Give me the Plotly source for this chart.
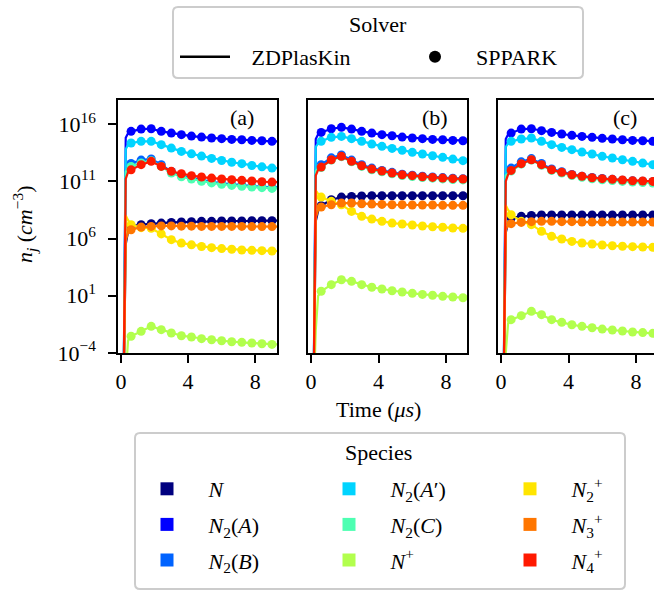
import plotly.graph_objects as go

# ---------------- data (log10 of number density, cm^-3) ----------------
T_DOTS = [0.6, 1.2, 1.8, 2.4, 3.0, 3.6, 4.2, 4.8, 5.4, 6.0, 6.6, 7.2, 7.8, 8.4, 9.0]
T_RISE = [0.15, 0.28, 0.42]
RISE_START = -8.0
T_END = 9.3

SPECIES = ["N", "N2A", "N2B", "N2Ap", "N2C", "Np", "N2p", "N3p", "N4p"]
LABELS = [
    "<i>N</i>",
    "<i>N</i><sub>2</sub>(<i>A</i>)",
    "<i>N</i><sub>2</sub>(<i>B</i>)",
    "<i>N</i><sub>2</sub>(<i>A</i>′)",
    "<i>N</i><sub>2</sub>(<i>C</i>)",
    "<i>N</i><sup>+</sup>",
    "<i>N</i><sub>2</sub><sup>+</sup>",
    "<i>N</i><sub>3</sub><sup>+</sup>",
    "<i>N</i><sub>4</sub><sup>+</sup>",
]
COLORS = ["#00007f", "#0000ff", "#0063ff", "#00d4ff", "#4dffb2",
          "#b2ff4d", "#ffe500", "#ff7600", "#ff1a00"]

# panel (a)
a_N    = [7.06, 7.21, 7.30, 7.35, 7.41, 7.44, 7.47, 7.50, 7.50, 7.53, 7.53, 7.53, 7.56, 7.56, 7.56]
a_N2A  = [15.36, 15.56, 15.59, 15.36, 15.21, 15.07, 14.95, 14.86, 14.78, 14.72, 14.66, 14.63, 14.57, 14.54, 14.49]
a_N2B  = [12.55, 12.85, 12.95, 12.45, 11.85, 11.50, 11.30, 11.10, 10.95, 10.83, 10.73, 10.65, 10.58, 10.52, 10.46]
a_N2Ap = [14.34, 14.49, 14.49, 14.20, 13.90, 13.61, 13.40, 13.20, 13.00, 12.82, 12.66, 12.54, 12.38, 12.26, 12.15]
a_N2C  = [12.30, 12.60, 12.80, 12.30, 11.72, 11.40, 11.20, 11.00, 10.86, 10.74, 10.64, 10.56, 10.50, 10.44, 10.38]
a_Np   = [-2.54, -2.11, -1.67, -1.96, -2.25, -2.49, -2.60, -2.75, -2.84, -2.93, -3.02, -3.07, -3.13, -3.19, -3.25]
a_N2p  = [7.20, 6.95, 6.90, 6.40, 5.90, 5.60, 5.45, 5.30, 5.20, 5.12, 5.06, 5.00, 4.97, 4.94, 4.91]
a_N3p  = [6.77, 7.00, 7.06, 7.10, 7.10, 7.08, 7.08, 7.06, 7.06, 7.06, 7.06, 7.06, 7.04, 7.04, 7.04]
a_N4p  = [12.00, 12.45, 12.74, 12.30, 11.87, 11.66, 11.49, 11.37, 11.28, 11.20, 11.14, 11.08, 11.02, 10.96, 10.93]
a_rise_mid = [5.5, 14.8, 12.0, 13.8, 11.8, -6.0, 8.0, 5.8, 11.2]
a_rise_end = [6.6, 15.2, 12.4, 14.2, 12.2, -2.9, 7.6, 6.5, 11.8]

# panel (b)
b_N    = [8.87, 9.39, 9.62, 9.68, 9.71, 9.74, 9.74, 9.74, 9.74, 9.74, 9.74, 9.74, 9.74, 9.74, 9.74]
b_N2A  = [15.27, 15.59, 15.71, 15.56, 15.36, 15.21, 15.07, 14.98, 14.86, 14.78, 14.72, 14.66, 14.63, 14.57, 14.54]
b_N2B  = [12.45, 13.05, 13.30, 12.85, 12.45, 12.15, 11.95, 11.78, 11.62, 11.53, 11.45, 11.38, 11.32, 11.27, 11.23]
b_N2Ap = [14.49, 14.84, 14.92, 14.72, 14.49, 14.25, 14.05, 13.87, 13.70, 13.53, 13.38, 13.23, 13.09, 12.94, 12.80]
b_N2C  = [12.20, 12.85, 13.15, 12.70, 12.30, 12.00, 11.83, 11.65, 11.50, 11.42, 11.33, 11.27, 11.21, 11.16, 11.12]
b_Np   = [1.39, 1.97, 2.40, 2.26, 1.97, 1.74, 1.59, 1.44, 1.33, 1.21, 1.12, 1.04, 0.95, 0.89, 0.83]
b_N2p  = [9.62, 9.25, 8.95, 8.37, 7.94, 7.70, 7.50, 7.35, 7.27, 7.18, 7.09, 7.03, 6.98, 6.92, 6.89]
b_N3p  = [8.75, 8.95, 9.10, 9.10, 9.04, 9.01, 8.98, 8.95, 8.95, 8.93, 8.93, 8.93, 8.90, 8.90, 8.90]
b_N4p  = [12.24, 12.88, 13.18, 12.74, 12.36, 12.07, 11.90, 11.72, 11.57, 11.49, 11.40, 11.34, 11.28, 11.23, 11.20]
b_rise_mid = [7.5, 14.7, 12.0, 14.0, 11.9, -2.0, 10.2, 7.8, 11.5]
b_rise_end = [8.4, 15.1, 12.3, 14.3, 12.1, 1.0, 9.9, 8.5, 12.0]

# panel (c)
c_N    = [7.79, 7.94, 8.02, 8.05, 8.05, 8.05, 8.05, 8.05, 8.05, 8.05, 8.05, 8.05, 8.05, 8.05, 8.05]
c_N2A  = [15.21, 15.56, 15.59, 15.42, 15.27, 15.13, 15.01, 14.92, 14.84, 14.75, 14.69, 14.63, 14.57, 14.54, 14.49]
c_N2B  = [12.15, 12.70, 12.98, 12.55, 12.08, 11.83, 11.60, 11.45, 11.33, 11.24, 11.17, 11.10, 11.04, 11.00, 10.96]
c_N2Ap = [14.49, 14.69, 14.78, 14.49, 14.20, 13.96, 13.76, 13.55, 13.38, 13.18, 13.03, 12.88, 12.74, 12.59, 12.45]
c_N2C  = [11.90, 12.50, 12.85, 12.40, 11.95, 11.72, 11.50, 11.35, 11.22, 11.13, 11.06, 10.99, 10.93, 10.89, 10.85]
c_Np   = [-1.09, -0.74, -0.36, -0.65, -1.09, -1.32, -1.53, -1.67, -1.79, -1.91, -1.99, -2.08, -2.17, -2.22, -2.28]
c_N2p  = [8.08, 7.50, 7.21, 6.63, 6.19, 5.96, 5.75, 5.61, 5.52, 5.43, 5.37, 5.32, 5.29, 5.26, 5.23]
c_N3p  = [7.30, 7.41, 7.47, 7.50, 7.50, 7.47, 7.47, 7.44, 7.44, 7.44, 7.44, 7.44, 7.44, 7.44, 7.44]
c_N4p  = [11.95, 12.54, 12.88, 12.45, 12.01, 11.78, 11.57, 11.43, 11.31, 11.23, 11.17, 11.11, 11.05, 11.02, 10.99]
c_rise_mid = [6.5, 14.7, 11.7, 14.0, 11.5, -4.0, 8.9, 6.8, 11.0]
c_rise_end = [7.4, 15.1, 12.0, 14.3, 11.7, -1.4, 8.5, 7.1, 11.6]

PANEL_LABELS = ["(a)", "(b)", "(c)"]
Y_TICKS = [-4, 1, 6, 11, 16]
X_TICKS = [0, 4, 8]

panels = [
    ([a_N, a_N2A, a_N2B, a_N2Ap, a_N2C, a_Np, a_N2p, a_N3p, a_N4p], a_rise_mid, a_rise_end),
    ([b_N, b_N2A, b_N2B, b_N2Ap, b_N2C, b_Np, b_N2p, b_N3p, b_N4p], b_rise_mid, b_rise_end),
    ([c_N, c_N2A, c_N2B, c_N2Ap, c_N2C, c_Np, c_N2p, c_N3p, c_N4p], c_rise_mid, c_rise_end),
]

# ---------------- figure ----------------
W, H = 654, 591
FONT = "Liberation Serif"
FS = 22
NB = "\u00a0"
fig = go.Figure()


def px(x):
    return x / W


def py(y):
    return 1 - y / H


def rounded_box(x0, y0, x1, y1, r=5):
    """SVG path (paper coords) of a box with rounded corners, pixel inputs."""
    X0, X1, Y0, Y1 = px(x0), px(x1), py(y0), py(y1)
    rx, ry = r / W, r / H
    return (f"M{X0+rx},{Y0} L{X1-rx},{Y0} Q{X1},{Y0} {X1},{Y0-ry} "
            f"L{X1},{Y1+ry} Q{X1},{Y1} {X1-rx},{Y1} L{X0+rx},{Y1} "
            f"Q{X0},{Y1} {X0},{Y1+ry} L{X0},{Y0-ry} Q{X0},{Y0} {X0+rx},{Y0} Z")


x_domains = [(px(118), px(277)), (px(308), px(467)), (px(498), 1.0)]
x_ranges = [[-0.18, 9.3], [-0.18, 9.24], [-0.18, 9.07]]
y_domain = [py(353), py(100)]

for p, (series, rmid, rend) in enumerate(panels):
    xa = "x" if p == 0 else f"x{p+1}"
    ya = "y" if p == 0 else f"y{p+1}"
    for i, vals in enumerate(series):
        lt = T_RISE + T_DOTS + [T_END]
        lv = [RISE_START, rmid[i], rend[i]] + vals + [vals[-1]]
        fig.add_trace(go.Scatter(
            x=lt, y=[10 ** v for v in lv], mode="lines",
            line=dict(color=COLORS[i], width=2.2),
            xaxis=xa, yaxis=ya, showlegend=False, hoverinfo="skip"))
        fig.add_trace(go.Scatter(
            x=T_DOTS, y=[10 ** v for v in vals], mode="markers",
            marker=dict(color=COLORS[i], size=9, line=dict(width=0)),
            xaxis=xa, yaxis=ya, showlegend=False, hoverinfo="skip"))

# legend: solver
fig.add_trace(go.Scatter(x=[None], y=[None], mode="lines",
                         line=dict(color="black", width=2.5),
                         name=NB * 3 + "ZDPlasKin" + NB * 9, legend="legend"))
fig.add_trace(go.Scatter(x=[None], y=[None], mode="markers",
                         marker=dict(color="black", size=12),
                         name=NB * 2 + "SPPARK", legend="legend"))

# legend: species, one legend per column
col_legends = ["legend2", "legend3", "legend4"]
for i in range(9):
    fig.add_trace(go.Scatter(x=[None], y=[None], mode="markers",
                             marker=dict(color=COLORS[i], size=13, symbol="square"),
                             name=NB * 3 + LABELS[i], legend=col_legends[i // 3],
                             legendgroup=SPECIES[i]))

axis_common = dict(showgrid=False, zeroline=False, showline=True, linecolor="black",
                   linewidth=1.5, ticks="outside", ticklen=8, tickwidth=1.5,
                   tickcolor="black", tickfont=dict(family=FONT, size=FS, color="black"))

layout = dict(
    width=W, height=H,
    margin=dict(l=0, r=0, t=0, b=0, autoexpand=False),
    paper_bgcolor="white", plot_bgcolor="white",
    template="none",
    font=dict(family=FONT, size=FS, color="black"),
)
for p in range(3):
    xk = "xaxis" if p == 0 else f"xaxis{p+1}"
    yk = "yaxis" if p == 0 else f"yaxis{p+1}"
    ya = "y" if p == 0 else f"y{p+1}"
    xa = "x" if p == 0 else f"x{p+1}"
    layout[xk] = dict(axis_common, domain=list(x_domains[p]), range=x_ranges[p],
                      tickvals=X_TICKS, mirror=True, anchor=ya)
    ycfg = dict(axis_common, domain=y_domain, type="log", range=[-4, 18.1],
                tickvals=[10 ** t for t in Y_TICKS],
                ticktext=[f"10<sup>{'−' + str(-t) if t < 0 else t}</sup>" for t in Y_TICKS],
                anchor=xa, mirror=(p < 2), ticklabelstandoff=8)
    if p > 0:
        ycfg.update(showticklabels=False, ticks="")
    layout[yk] = ycfg

layout["legend"] = dict(
    orientation="h", x=px(175), xanchor="left", y=py(36), yanchor="top",
    bgcolor="rgba(0,0,0,0)", borderwidth=0,
    font=dict(family=FONT, size=FS), itemwidth=50,
)
col_x = [142, 324, 505]
for k, name in enumerate(col_legends):
    layout[name] = dict(
        orientation="v", x=px(col_x[k]), xanchor="left", y=py(468), yanchor="top",
        bgcolor="rgba(0,0,0,0)", borderwidth=0, tracegroupgap=4,
        font=dict(family=FONT, size=FS), itemsizing="trace", itemwidth=40,
    )

fig.update_layout(**layout)

# panel labels, axis titles, legend titles
for p in range(3):
    xa = "x" if p == 0 else f"x{p+1}"
    ya = "y" if p == 0 else f"y{p+1}"
    fig.add_annotation(text=PANEL_LABELS[p], xref=f"{xa} domain", yref=f"{ya} domain",
                       x=[0.78, 0.80, 0.815][p], y=0.93, xanchor="center", yanchor="middle",
                       showarrow=False, font=dict(family=FONT, size=FS))
fig.add_annotation(text="<i>n<sub>j</sub></i> (<i>cm</i><sup>−3</sup>)", xref="paper", yref="paper",
                   x=px(25), y=py(225), xanchor="center", yanchor="middle",
                   textangle=-90, showarrow=False, font=dict(family=FONT, size=FS))
fig.add_annotation(text="Time (<i>μs</i>)", xref="paper", yref="paper",
                   x=px(378), y=py(409), xanchor="center", yanchor="middle",
                   showarrow=False, font=dict(family=FONT, size=FS))
fig.add_annotation(text="Solver", xref="paper", yref="paper",
                   x=px(378), y=py(25), xanchor="center", yanchor="middle",
                   showarrow=False, font=dict(family=FONT, size=FS))
fig.add_annotation(text="Species", xref="paper", yref="paper",
                   x=px(378), y=py(452), xanchor="center", yanchor="middle",
                   showarrow=False, font=dict(family=FONT, size=FS))

# legend frames
fig.add_shape(type="path", xref="paper", yref="paper", path=rounded_box(173, 7, 583, 78),
              line=dict(color="#cccccc", width=2), fillcolor="white", layer="below")
fig.add_shape(type="path", xref="paper", yref="paper", path=rounded_box(135, 433, 625, 589),
              line=dict(color="#cccccc", width=2), fillcolor="white", layer="below")

fig.write_html("out.html")
